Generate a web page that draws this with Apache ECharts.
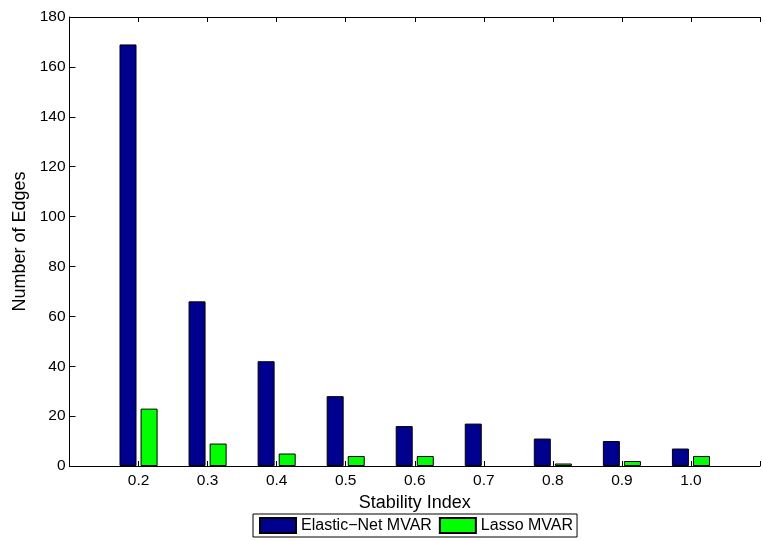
<!DOCTYPE html>
<html>
<head>
<meta charset="utf-8">
<script src="https://cdn.jsdelivr.net/npm/echarts@6/dist/echarts.min.js"></script>
<style>html,body{margin:0;padding:0;background:#fff;}#c{width:763px;height:541px;}</style>
</head>
<body>
<div id="c"></div>
<script>
var categories = [0.2, 0.3, 0.4, 0.5, 0.6, 0.7, 0.8, 0.9, 1.0];
var tickLabels = ['0.2', '0.3', '0.4', '0.5', '0.6', '0.7', '0.8', '0.9', '1.0'];
var elasticNet = [169, 66, 42, 28, 16, 17, 11, 10, 7];
var lasso = [23, 9, 5, 4, 4, 0, 1, 2, 4];
var seriesNames = ['Elastic\u2212Net MVAR', 'Lasso MVAR'];

function pairs(vals) { return categories.map(function (c, i) { return [c, vals[i] === 0 ? null : vals[i]]; }); }
function labelFor(v) {
  for (var i = 0; i < categories.length; i++) {
    if (Math.abs(categories[i] - v) < 1e-6) return tickLabels[i];
  }
  return '';
}
var font = '"Liberation Sans", Arial, Helvetica, sans-serif';
var chart = echarts.init(document.getElementById('c'));
var xBase = {
  type: 'value', min: 0.1, max: 1.1, interval: 0.1,
  axisLine: { show: true, lineStyle: { color: '#000', width: 1 } },
  axisTick: { show: true, inside: true, length: 5, lineStyle: { color: '#000' } },
  splitLine: { show: false }
};
chart.setOption({
  animation: false,
  textStyle: { fontFamily: font },
  grid: { left: 69.5, top: 17, width: 702.5, height: 449, containLabel: false },
  legend: {
    left: 253, top: 514,
    orient: 'horizontal',
    data: seriesNames,
    icon: 'rect',
    itemWidth: 36, itemHeight: 15, itemGap: 7,
    padding: [3, 4, 3, 6],
    borderColor: '#000', borderWidth: 1,
    backgroundColor: '#fff',
    textStyle: { fontSize: 16, color: '#000', fontFamily: font }
  },
  xAxis: [
    Object.assign({}, xBase, {
      position: 'bottom',
      name: 'Stability Index', nameLocation: 'middle', nameGap: 18,
      nameTextStyle: { fontSize: 18, color: '#000', fontFamily: font },
      axisLabel: { show: true, margin: 7, fontSize: 15.5, color: '#000', fontFamily: font,
        formatter: function (v) { return labelFor(v); } }
    }),
    Object.assign({}, xBase, { position: 'top', axisLabel: { show: false } })
  ],
  yAxis: {
    type: 'value', min: 0, max: 180, interval: 20,
    name: 'Number of Edges', nameLocation: 'middle', nameGap: 35, nameRotate: 90,
    nameTextStyle: { fontSize: 18, color: '#000', fontFamily: font },
    axisLine: { show: true, lineStyle: { color: '#000', width: 1 } },
    axisTick: { show: true, inside: true, length: 6, lineStyle: { color: '#000' } },
    axisLabel: { margin: 4, fontSize: 15.5, color: '#000', fontFamily: font },
    splitLine: { show: false }
  },
  series: [
    { name: seriesNames[0], type: 'bar', xAxisIndex: 0, data: pairs(elasticNet),
      barWidth: 17, barGap: '24%',
      itemStyle: { color: '#00008F', borderColor: '#000', borderWidth: 1 } },
    { name: seriesNames[1], type: 'bar', xAxisIndex: 0, data: pairs(lasso),
      barWidth: 17, barGap: '24%',
      itemStyle: { color: '#00FF00', borderColor: '#000', borderWidth: 1 } }
  ]
});
</script>
</body>
</html>
